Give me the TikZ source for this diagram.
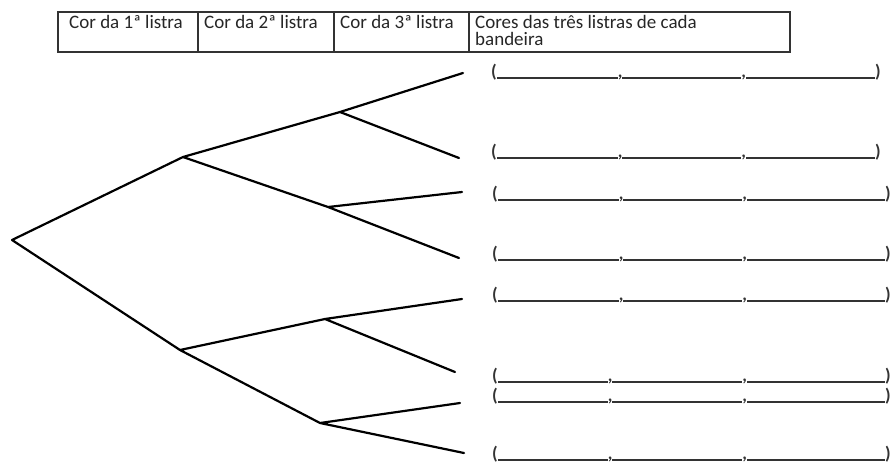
\documentclass[tikz,border=0pt]{standalone}
\usepackage{fontspec}
\setmainfont{Carlito}
\newcommand{\blankrow}[3]{\textbf{(}\rule[-1.5pt]{#1}{1.6pt}\textbf{,}\rule[-1.5pt]{#2}{1.6pt}\textbf{,}\rule[-1.5pt]{#3}{1.6pt}\textbf{)}}
\tikzset{
  branch/.style={line width=2.2pt, line cap=round, line join=round},
  cell/.style={draw=black!80, line width=1.2pt},
  head/.style={anchor=base west, inner sep=0pt, font=\fontsize{19}{22}\selectfont, text=black!85},
  blank/.style={anchor=base west, inner sep=0pt, font=\fontsize{18}{20}\selectfont, text=black!80}
}
\begin{document}
\begin{tikzpicture}[x=1pt,y=-1pt]
\useasboundingbox (0,0) rectangle (892,464);
% header table
\draw[cell] (58,12) rectangle (790,52);
\draw[cell] (198,12) -- (198,52);
\draw[cell] (334,12) -- (334,52);
\draw[cell] (469,12) -- (469,52);
\node[head] (h1) at (69,28) {Cor da 1ª listra};
\node[head] (h2) at (204,28) {Cor da 2ª listra};
\node[head] (h3) at (340,28) {Cor da 3ª listra};
\node[head] (h4) at (475,28) {Cores das três listras de cada};
\node[head] (h5) at (475,45.5) {bandeira};
% tree
\coordinate (R) at (12,240);
\coordinate (A) at (183,157);
\coordinate (B) at (180,350);
\coordinate (C) at (340,112);
\coordinate (D) at (328,207);
\coordinate (E) at (325,319);
\coordinate (F) at (320,423);
\coordinate (L1) at (463,73);
\coordinate (L2) at (459,158);
\coordinate (L3) at (462,192);
\coordinate (L4) at (459,258);
\coordinate (L5) at (462,299);
\coordinate (L6) at (455,372);
\coordinate (L7) at (460,403);
\coordinate (L8) at (464,453);
\draw[branch] (A) -- (R) -- (B);
\draw[branch] (C) -- (A) -- (D);
\draw[branch] (E) -- (B) -- (F);
\draw[branch] (L1) -- (C) -- (L2);
\draw[branch] (L3) -- (D) -- (L4);
\draw[branch] (L5) -- (E) -- (L6);
\draw[branch] (L7) -- (F) -- (L8);
% answer rows
\node[blank] (r1) at (491,77) {\blankrow{121pt}{119pt}{129pt}};
\node[blank] (r2) at (491,157) {\blankrow{121pt}{119pt}{129pt}};
\node[blank] (r3) at (492,199) {\blankrow{121pt}{119pt}{138pt}};
\node[blank] (r4) at (492,259) {\blankrow{121pt}{119pt}{138pt}};
\node[blank] (r5) at (492,300) {\blankrow{121pt}{119pt}{138pt}};
\node[blank] (r6) at (492,381) {\blankrow{110pt}{130pt}{138pt}};
\node[blank] (r7) at (492,401) {\blankrow{110pt}{130pt}{138pt}};
\node[blank] (r8) at (492,459) {\blankrow{110pt}{130pt}{138pt}};
\end{tikzpicture}
\end{document}
